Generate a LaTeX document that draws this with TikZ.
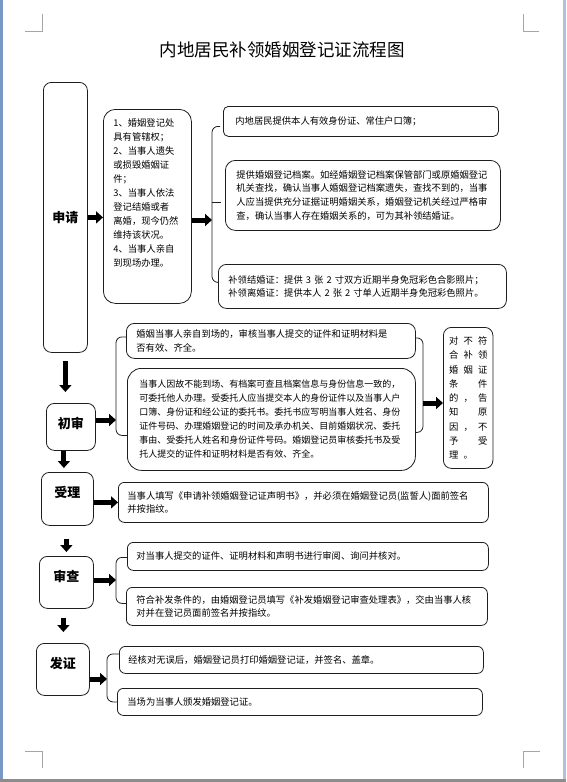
\documentclass[tikz,border=0pt]{standalone}
\usepackage{fontspec}
\setmainfont{Noto Sans CJK SC}
\usepackage{tikz}
\usetikzlibrary{arrows.meta}
\definecolor{boxline}{HTML}{1E1E1E}
\definecolor{pageblue}{HTML}{7A98C6}
\definecolor{pagegray}{HTML}{8C8C8C}
\definecolor{cropgray}{HTML}{A6A6A6}
\newcommand{\bodyfont}{\fontsize{9.3pt}{13.8pt}\selectfont}
\newcommand{\trio}[3]{\makebox[14.5pt]{#1}\makebox[14.5pt]{#2}\makebox[14.5pt]{#3}}

\begin{document}
\begin{tikzpicture}[x=1pt,y=-1pt,
  stage/.style={draw=boxline,line width=0.8pt,rounded corners=8pt,inner sep=0pt,
    font=\fontsize{13pt}{15pt}\selectfont\bfseries,anchor=north west},
  infobox/.style={draw=boxline,line width=0.8pt,rounded corners=6pt,inner xsep=10pt,
    inner ysep=0pt,align=left,font=\bodyfont,anchor=north west},
  fatarrow/.style={line width=5pt,-{Triangle[length=7pt,width=12pt]}},
  brace/.style={draw=boxline,line width=0.8pt,rounded corners=6pt}]
  \useasboundingbox (0,0) rectangle (566,782);
  % page
  \fill[white] (0,0) rectangle (566,782);
  \fill[pageblue] (0,0) rectangle (3,782);
  \fill[pageblue!60] (563,0) rectangle (566,782);
  \fill[pagegray] (0,779) rectangle (566,782);
  \draw[cropgray,line width=0.7pt] (25,31) -- (42,31) -- (42,14)
    (523,14) -- (523,31) -- (539,31)
    (25,751) -- (42,751) -- (42,768)
    (540,751) -- (523,751) -- (523,768);

  \node[font=\fontsize{17.5pt}{20pt}\selectfont] (title) at (282,50) {内地居民补领婚姻登记证流程图};

  % stages
  \node[stage,minimum width=44pt,minimum height=270pt] (apply) at (43,82) {申请};
  \node[stage,minimum width=49pt,text height=25pt,text depth=22pt] (first) at (46,403) {初审};
  \node[stage,minimum width=52pt,text height=25pt,text depth=28pt] (accept) at (41,472) {受理};
  \node[stage,minimum width=54pt,text height=25pt,text depth=27pt] (check) at (39,556) {审查};
  \node[stage,minimum width=53pt,text height=25pt,text depth=27pt] (issue) at (36,643) {发证};

  % apply
  \node[infobox,rounded corners=12pt,text width=68pt,text height=17.5pt,text depth=176.5pt,
    font=\fontsize{9.3pt}{14pt}\selectfont] (cond) at (103,109)
    {1、婚姻登记处\\具有管辖权；\\2、当事人遗失\\或损毁婚姻证\\件；\\3、当事人依法\\登记结婚或者\\离婚，现今仍然\\维持该状况。\\4、当事人亲自\\到现场办理。};
  \node[infobox,inner xsep=12pt,text width=251pt,minimum height=30pt,rounded corners=5pt] (id) at (223,106)
    {内地居民提供本人有效身份证、常住户口簿；};
  \node[infobox,inner xsep=11pt,text width=253pt,minimum height=70pt,rounded corners=10pt] (archive) at (225,160)
    {提供婚姻登记档案。如经婚姻登记档案保管部门或原婚姻登记\\机关查找，确认当事人婚姻登记档案遗失，查找不到的，当事\\人应当提供充分证据证明婚姻关系，婚姻登记机关经过严格审\\查，确认当事人存在婚姻关系的，可为其补领结婚证。};
  \node[infobox,text width=268pt,minimum height=44pt,rounded corners=8pt] (photo) at (218,264)
    {补领结婚证：提供 3 张 2 寸双方近期半身免冠彩色合影照片；\\补领离婚证：提供本人 2 张 2 寸单人近期半身免冠彩色照片。};
  \coordinate (spineA) at (212,220);
  \draw[brace] ([xshift=-3pt,yshift=-5pt]id.west) -| (spineA) |- ([yshift=4pt]photo.west);
  \draw[brace] (spineA |- archive.west) ++(0,7) -- ++(9,0);
  \draw[fatarrow] (apply.east) -- (apply.east -| cond.west);
  \draw[fatarrow] (cond.east |- spineA) -- (spineA);

  % first review
  \node[infobox,text width=269pt,minimum height=35pt,rounded corners=8pt] (inperson) at (126,323)
    {婚姻当事人亲自到场的，审核当事人提交的证件和证明材料是\\否有效、齐全。};
  \node[infobox,inner xsep=12pt,text width=264pt,minimum height=102pt,rounded corners=14pt,
    font=\fontsize{9pt}{14pt}\selectfont] (proxy) at (127,368)
    {当事人因故不能到场、有档案可查且档案信息与身份信息一致的，\\可委托他人办理。受委托人应当提交本人的身份证件以及当事人户\\口簿、身份证和经公证的委托书。委托书应写明当事人姓名、身份\\证件号码、办理婚姻登记的时间及承办机关、目前婚姻状况、委托\\事由、受委托人姓名和身份证件号码。婚姻登记员审核委托书及受\\托人提交的证件和证明材料是否有效、齐全。};
  \node[infobox,inner xsep=3pt,text width=43.5pt,minimum height=141pt,rounded corners=8pt,
    font=\fontsize{9.3pt}{14.25pt}\selectfont] (refuse) at (443,327)
    {\trio{对}{不}{符}\\\trio{合}{补}{领}\\\trio{婚}{姻}{证}\\\trio{条}{}{件}\\\trio{的}{，}{告}\\\trio{知}{}{原}\\\trio{因}{，}{不}\\\trio{予}{}{受}\\\trio{理}{。}{}};
  \coordinate (spineB) at (116,420);
  \coordinate (spineC) at (423,403);
  \draw[brace] ([yshift=4pt]inperson.west) -| (spineB) |- ([yshift=-16pt]proxy.west);
  \draw[brace] ([yshift=3pt]inperson.east) -| (spineC) |- ([yshift=-13pt]proxy.east);
  \draw[fatarrow] (first.east |- spineB) -- (spineB);
  \draw[fatarrow] (spineC) -- (spineC -| refuse.west);

  % accept
  \node[infobox,inner xsep=9pt,text width=352pt,minimum height=40pt] (statement) at (118,482)
    {当事人填写《申请补领婚姻登记证声明书》，并必须在婚姻登记员(监誓人)面前签名\\并按指纹。};
  \draw[fatarrow] (accept.east |- statement.west) -- (statement.west);

  % check
  \node[infobox,inner xsep=9pt,text width=343pt,minimum height=28pt] (verify) at (127,542)
    {对当事人提交的证件、证明材料和声明书进行审阅、询问并核对。};
  \node[infobox,text width=341pt,minimum height=38pt] (form) at (126,587)
    {符合补发条件的，由婚姻登记员填写《补发婚姻登记审查处理表》，交由当事人核\\对并在登记员面前签名并按指纹。};
  \coordinate (spineE) at (116,580);
  \draw[brace] ([yshift=-1pt]verify.west) -| (spineE) |- ([yshift=3pt]form.west);
  \draw[fatarrow] (check.east |- spineE) -- (spineE);

  % issue
  \node[infobox,inner xsep=9pt,text width=346pt,minimum height=27pt] (print) at (119,646)
    {经核对无误后，婚姻登记员打印婚姻登记证，并签名、盖章。};
  \node[infobox,text width=345pt,minimum height=27pt] (hand) at (117,688)
    {当场为当事人颁发婚姻登记证。};
  \coordinate (spineF) at (107,679);
  \draw[brace] ([yshift=6pt]print.west) -| (spineF) |- (hand.west);
  \draw[fatarrow] (issue.east |- spineF) -- (spineF);

  % stage to stage
  \draw[fatarrow,shorten <=8pt,shorten >=11pt] (apply.south) -- (apply.south |- first.north);
  \draw[fatarrow,shorten >=4pt] ([xshift=-7pt]first.south) -- ([xshift=-7pt]first.south |- accept.north);
  \draw[fatarrow,shorten <=13pt,shorten >=4pt] ([xshift=-1pt]accept.south) -- ([xshift=-1pt]accept.south |- check.north);
  \draw[fatarrow,shorten <=9pt,shorten >=11pt] ([xshift=-3pt]check.south) -- ([xshift=-3pt]check.south |- issue.north);
\end{tikzpicture}
\end{document}
